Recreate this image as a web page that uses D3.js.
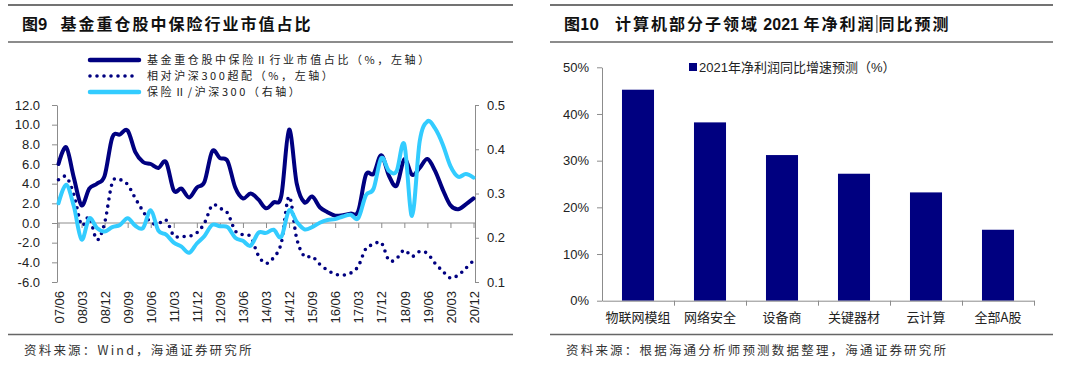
<!DOCTYPE html>
<html><head><meta charset="utf-8">
<script src="https://cdn.jsdelivr.net/npm/d3@7"></script>
<style>
html,body{margin:0;padding:0;background:#fff;}
svg{display:block;font-family:"Liberation Sans","Noto Sans CJK SC",sans-serif;}
</style></head>
<body><svg id="c" width="1080" height="365"></svg>
<script>
// ---------- Left chart data (quarterly) ----------
const quarters = ["07/06","07/09","07/12","08/03","08/06","08/09","08/12","09/03","09/06","09/09","09/12",
"10/03","10/06","10/09","10/12","11/03","11/06","11/09","11/12","12/03","12/06","12/09","12/12",
"13/03","13/06","13/09","13/12","14/03","14/06","14/09","14/12","15/03","15/06","15/09","15/12",
"16/03","16/06","16/09","16/12","17/03","17/06","17/09","17/12","18/03","18/06","18/09","18/12",
"19/03","19/06","19/09","19/12","20/03","20/06","20/09","20/12"];
const tickQuarters = ["07/06","08/03","08/12","09/09","10/06","11/03","11/12","12/09","13/06","14/03",
"14/12","15/09","16/06","17/03","17/12","18/09","19/06","20/03","20/12"];
// 基金重仓股中保险Ⅱ行业市值占比（%，左轴）
const shareValues = [6.0,7.7,4.6,1.8,3.5,4.0,4.8,8.7,9.0,9.4,7.2,6.2,6.0,5.6,6.2,3.3,3.5,2.6,3.6,4.2,7.3,
6.6,6.3,3.6,2.5,3.0,2.4,1.5,2.1,2.8,9.5,4.0,2.1,2.7,1.6,1.1,0.75,0.8,0.95,1.2,4.9,5.0,6.9,4.8,3.8,6.5,
4.9,5.6,6.5,5.3,3.4,1.8,1.4,1.9,2.5];
// 相对沪深300超配（%，左轴）
const overValues = [4.4,4.7,2.9,-0.2,0.6,-1.7,0.0,4.1,4.4,3.9,2.5,1.2,0.05,-0.05,0.3,-1.3,-1.35,-1.35,-1.0,
0.0,1.8,1.5,1.0,-0.8,-1.2,-1.4,-3.3,-4.1,-3.5,-2.0,2.7,-1.6,-3.4,-3.4,-4.2,-4.8,-5.2,-5.3,-5.1,-4.4,-2.6,
-2.2,-2.0,-3.8,-3.6,-2.75,-3.4,-2.9,-3.1,-4.1,-4.9,-5.6,-5.3,-4.6,-3.8];
// 保险Ⅱ/沪深300（右轴）
const ratioValues = [0.278,0.320,0.271,0.196,0.244,0.222,0.214,0.224,0.229,0.244,0.227,0.222,0.262,0.216,
0.207,0.189,0.180,0.166,0.187,0.204,0.229,0.226,0.224,0.200,0.193,0.182,0.211,0.211,0.218,0.202,0.262,
0.236,0.219,0.224,0.234,0.240,0.242,0.248,0.252,0.244,0.296,0.311,0.380,0.351,0.351,0.411,0.249,0.418,
0.463,0.447,0.411,0.362,0.338,0.344,0.336];
const leftTicks = [-6,-4,-2,0,2,4,6,8,10,12];
const rightTicks = [0.1,0.2,0.3,0.4,0.5];
const legendLeft = ["基金重仓股中保险Ⅱ行业市值占比（%，左轴）","相对沪深300超配（%，左轴）","保险Ⅱ/沪深300（右轴）"];

// ---------- Right chart data ----------
const sectors = ["物联网模组","网络安全","设备商","关键器材","云计算","全部A股"];
const growth = [0.452,0.382,0.312,0.272,0.232,0.152];
const pctTicks = [0,0.1,0.2,0.3,0.4,0.5];
const legendRight = "2021年净利润同比增速预测（%）";

const NAVY = "#000080", CYAN = "#33CCFF", AXIS = "#8c8c8c", TXT = "#222";
const svg = d3.select("#c");
svg.append("rect").attr("width",1080).attr("height",365).attr("fill","#fff");

// ---------- frames: titles, rules, footers ----------
function frame(x0, x1, titleParts, footer){
  svg.append("line").attr("x1",x0).attr("x2",x1).attr("y1",5).attr("y2",5).attr("stroke","#444").attr("stroke-width",1.5);
  svg.append("line").attr("x1",x0).attr("x2",x1).attr("y1",42).attr("y2",42).attr("stroke","#666").attr("stroke-width",1.5);
  svg.append("line").attr("x1",x0).attr("x2",x1).attr("y1",334.5).attr("y2",334.5).attr("stroke","#666").attr("stroke-width",1.5);
  const t = svg.append("text").attr("x",x0+14).attr("y",24).attr("dy","0.36em")
    .attr("font-size",16).attr("font-weight",700).attr("fill","#111")
    .attr("font-family","'Noto Sans CJK SC','Liberation Sans',sans-serif");
  titleParts.forEach(p => t.append("tspan").attr("dx",p.dx||0).attr("letter-spacing",p.ls||0)
      .attr("font-family",p.ff||null).text(p.t));
  svg.append("text").attr("x",x0+16).attr("y",351).attr("dy","0.35em").attr("font-size",12.5)
    .attr("fill","#333").attr("font-family","'Noto Sans CJK SC',sans-serif").attr("letter-spacing",2.2).text(footer);
  return t;
}
frame(8, 513, [{t:"图9",ls:0},{t:"基金重仓股中保险行业市值占比",dx:13,ls:2}], "资料来源：Wind，海通证券研究所");
const t10 = frame(550, 1053, [{t:"图10",ls:0},{t:"计算机部分子领域",dx:16,ls:2},{t:" 2021 ",ff:"'Liberation Sans',sans-serif"},{t:"年净利润",ls:2},{t:"同比预测",ls:2,dx:3}],
  "资料来源：根据海通分析师预测数据整理，海通证券研究所");
// thin caret mark seen in the reference title between 润 and 同
const spans = t10.selectAll("tspan").nodes();
const sbox = spans[3].getBBox ? null : null;
try {
  const n = t10.node();
  const idx = n.getNumberOfChars ? (function(){ let c=0; for(let k=0;k<4;k++) c+=spans[k].textContent.length; return c; })() : 0;
  const ext = n.getExtentOfChar(idx);
  svg.append("line").attr("x1",ext.x-1.5).attr("x2",ext.x-1.5).attr("y1",15).attr("y2",33).attr("stroke","#333").attr("stroke-width",1);
} catch(e) {}

// ---------- Left chart ----------
const x = d3.scalePoint().domain(quarters).range([58.5, 473.5]);
const yL = d3.scaleLinear().domain([-6,12]).range([282,105]);
const yR = d3.scaleLinear().domain([0.1,0.5]).range([282,105]);
const L = svg.append("g");

const axL = L.append("g").attr("transform","translate(57,0)")
  .call(d3.axisLeft(yL).tickValues(leftTicks).tickFormat(d=>d.toFixed(1)).tickSize(5).tickSizeOuter(0).tickPadding(12));
const axR = L.append("g").attr("transform","translate(475,0)")
  .call(d3.axisRight(yR).tickValues(rightTicks).tickFormat(d=>d.toFixed(1)).tickSize(4).tickSizeOuter(0).tickPadding(8));
const axZ = L.append("g").attr("transform",`translate(0,${yL(0)})`)
  .call(d3.axisBottom(x).tickValues(tickQuarters).tickFormat("").tickSize(5).tickSizeOuter(0));
axZ.select(".domain").attr("d",`M57,0H475`);
const axB = L.append("g").attr("transform","translate(0,291)")
  .call(d3.axisBottom(x).tickValues(tickQuarters).tickSize(0).tickPadding(0));
axB.select(".domain").remove();
axB.selectAll("text").attr("transform","rotate(-90)").attr("text-anchor","end").attr("x",0).attr("y",0).attr("dy","0.36em");

[axL,axR,axZ,axB].forEach(a=>{
  a.selectAll(".domain,line").attr("stroke",AXIS);
  a.selectAll("text").attr("font-size",13).attr("fill",TXT).attr("font-family","'Liberation Sans',sans-serif");
});

const curve = d3.curveCardinal.tension(0);
const lineL = d3.line().x((d,i)=>x(quarters[i])).y(d=>yL(d)).curve(curve);
const lineR = d3.line().x((d,i)=>x(quarters[i])).y(d=>yR(d)).curve(curve);
L.append("path").attr("d",lineL(shareValues)).attr("fill","none").attr("stroke",NAVY).attr("stroke-width",4).attr("stroke-linejoin","round").attr("stroke-linecap","round");
L.append("path").attr("d",lineL(overValues)).attr("fill","none").attr("stroke",NAVY).attr("stroke-width",3.6).attr("stroke-dasharray","0 7").attr("stroke-linecap","round");
L.append("path").attr("d",lineR(ratioValues)).attr("fill","none").attr("stroke",CYAN).attr("stroke-width",4).attr("stroke-linejoin","round").attr("stroke-linecap","round");

// legend
const lg = L.append("g");
legendLeft.forEach((t,i)=>{
  const yy = 60 + i*16;
  const ln = lg.append("line").attr("x1",90).attr("x2",139).attr("y1",yy).attr("y2",yy)
    .attr("stroke", i===2?CYAN:NAVY).attr("stroke-width", i===1?3.6:4.5).attr("stroke-linecap","round");
  if(i===1) ln.attr("stroke-dasharray","0 7");
  lg.append("text").attr("x",147).attr("y",yy).attr("dy","0.36em").attr("font-size",11).attr("letter-spacing",2.6).attr("fill",TXT)
    .attr("font-family","'Noto Sans CJK SC',sans-serif").text(t);
});

// ---------- Right chart ----------
const xb = d3.scaleBand().domain(sectors).range([602,1034]).paddingInner(0.555).paddingOuter(0.2775);
const yb = d3.scaleLinear().domain([0,0.5]).range([300.7,67.3]);
const R = svg.append("g");
R.selectAll("rect.bar").data(growth).join("rect").attr("class","bar")
  .attr("x",(d,i)=>xb(sectors[i])).attr("width",xb.bandwidth())
  .attr("y",d=>yb(d)).attr("height",d=>yb(0)-yb(d)).attr("fill",NAVY);
const ayb = R.append("g").attr("transform","translate(602,0)")
  .call(d3.axisLeft(yb).tickValues(pctTicks).tickFormat(d3.format(".0%")).tickSize(5).tickSizeOuter(0).tickPadding(8));
const bounds = d3.scaleLinear().domain([0,sectors.length]).range([602,1034]);
const axb = R.append("g").attr("transform",`translate(0,${yb(0)})`)
  .call(d3.axisBottom(bounds).tickValues(d3.range(1,sectors.length+1)).tickFormat("").tickSize(5).tickSizeOuter(0));
const axbl = R.append("g").attr("transform",`translate(0,${yb(0)})`)
  .call(d3.axisBottom(xb).tickSize(0).tickPadding(12));
axbl.select(".domain").remove();
[ayb,axb].forEach(a=>{a.selectAll(".domain,line").attr("stroke",AXIS);
  a.selectAll("text").attr("font-size",13).attr("fill",TXT).attr("font-family","'Liberation Sans',sans-serif");});
axbl.selectAll("text").attr("font-size",13).attr("fill",TXT).attr("font-family","'Noto Sans CJK SC',sans-serif").attr("dy","0.72em");
R.append("rect").attr("x",689).attr("y",63).attr("width",8).attr("height",8).attr("fill",NAVY);
R.append("text").attr("x",699).attr("y",67).attr("dy","0.36em").attr("font-size",13).attr("fill",TXT)
  .attr("font-family","'Liberation Sans','Noto Sans CJK SC',sans-serif").text(legendRight);
</script></body></html>
